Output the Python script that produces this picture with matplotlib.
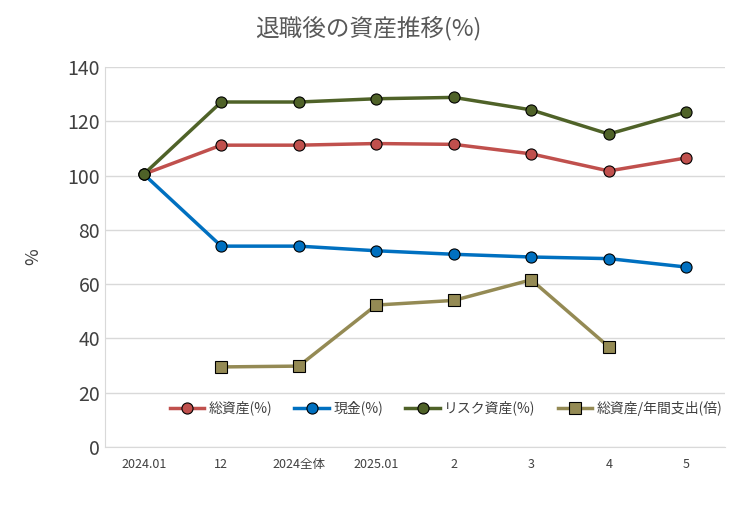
import matplotlib
matplotlib.use("Agg")
import matplotlib.pyplot as plt
import numpy as np

plt.rcParams["font.family"] = ["Noto Sans CJK JP", "DejaVu Sans"]

categories = ["2024.01", "12", "2024全体", "2025.01", "2", "3", "4", "5"]
total_assets = [100.5, 111.2, 111.2, 111.8, 111.5, 108.0, 101.7, 106.5]
cash = [100.5, 74.0, 74.0, 72.3, 71.0, 70.0, 69.4, 66.3]
risk_assets = [100.5, 127.1, 127.1, 128.3, 128.8, 124.2, 115.3, 123.4]
assets_per_spend = [np.nan, 29.5, 29.8, 52.3, 54.0, 61.6, 36.9, np.nan]

fig = plt.figure(figsize=(7.37, 5.15), dpi=100)
ax = fig.add_axes([105/737, 1-447/515, 620/737, 380/515])
x = np.arange(len(categories))

ax.plot(x, total_assets, color="#C0504D", lw=2.5, marker="o", ms=8, mfc="#C0504D", mec="black", mew=0.8, label="総資産(%)")
ax.plot(x, cash, color="#0070C0", lw=2.5, marker="o", ms=8, mfc="#0070C0", mec="black", mew=0.8, label="現金(%)")
ax.plot(x, risk_assets, color="#4F6228", lw=2.5, marker="o", ms=8, mfc="#4F6228", mec="black", mew=0.8, label="リスク資産(%)")
ax.plot(x, assets_per_spend, color="#948A54", lw=2.5, marker="s", ms=9, mfc="#948A54", mec="black", mew=0.8, label="総資産/年間支出(倍)")

ax.set_xlim(-0.5, len(categories) - 0.5)
ax.set_ylim(0, 140)
ax.set_yticks(range(0, 141, 20))
ax.set_xticks(x)
ax.set_xticklabels(categories, fontsize=9, color="#404040")
ax.tick_params(axis="y", labelsize=14, colors="#404040", length=0)
ax.tick_params(axis="x", length=0, pad=8)
ax.grid(axis="y", color="#D9D9D9", lw=1)
ax.set_axisbelow(True)
for s in ["top", "right"]:
    ax.spines[s].set_visible(False)
ax.spines["left"].set_color("#D9D9D9")
ax.spines["bottom"].set_color("#D9D9D9")
ax.set_ylabel("%", fontsize=13, color="#404040", labelpad=18)

fig.text(0.5, 1-28/515, "退職後の資産推移(%)", ha="center", va="center", fontsize=17, color="#595959")
ax.legend(loc="center", bbox_to_anchor=(0.55, (447-408)/380), ncol=4, frameon=False,
          fontsize=10, handlelength=2.5, columnspacing=1.6, handletextpad=0.3, labelcolor="#404040")

fig.savefig("out.png", dpi=100)
